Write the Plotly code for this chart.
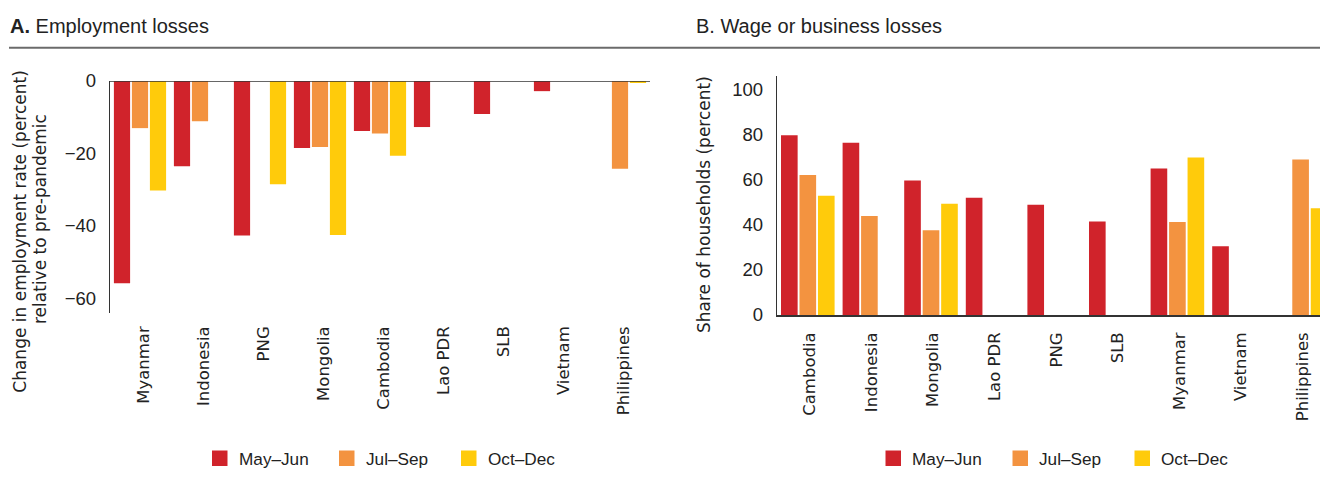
import plotly.graph_objects as go

W, H = 1320, 479

# ---- data ----
series = ["May–Jun", "Jul–Sep", "Oct–Dec"]
colors = ["#D0232B", "#F39340", "#FFCB0B"]

cats_a = ["Myanmar", "Indonesia", "PNG", "Mongolia", "Cambodia", "Lao PDR", "SLB", "Vietnam", "Philippines"]
a_may = [-55.8, -23.5, -42.6, -18.5, -13.8, -12.7, -9.1, -2.8, None]
a_jul = [-13.0, -11.1, None, -18.2, -14.5, None, None, None, -24.2]
a_oct = [-30.2, None, -28.5, -42.5, -20.6, None, None, None, -0.3]

cats_b = ["Cambodia", "Indonesia", "Mongolia", "Lao PDR", "PNG", "SLB", "Myanmar", "Vietnam", "Philippines"]
b_may = [79.7, 76.4, 59.6, 52.0, 48.9, 41.5, 65.0, 30.5, None]
b_jul = [62.1, 43.9, 37.6, None, None, None, 41.2, None, 69.0]
b_oct = [52.9, None, 49.3, None, None, None, 69.8, None, 47.4]

ticks_a = [0, -20, -40, -60]
ticklabels_a = ["0", "−20", "−40", "−60"]
ticks_b = [0, 20, 40, 60, 80, 100]
ticklabels_b = ["0", "20", "40", "60", "80", "100"]

title_a = "<b>A.</b> Employment losses"
title_b = "B. Wage or business losses"
ytitle_a1 = "Change in employment rate (percent)"
ytitle_a2 = "relative to pre-pandemic"
ytitle_b = "Share of households (percent)"

# ---- helpers (pixel -> paper) ----
def px(x):
    return x / W

def py(y):
    return 1 - y / H

fig = go.Figure()

for name, col, va, vb in zip(series, colors, [a_may, a_jul, a_oct], [b_may, b_jul, b_oct]):
    fig.add_trace(go.Bar(x=cats_a, y=va, name=name, marker=dict(color=col, line=dict(width=0)),
                         xaxis="x", yaxis="y", showlegend=False))
    fig.add_trace(go.Bar(x=cats_b, y=vb, name=name, marker=dict(color=col, line=dict(width=0)),
                         xaxis="x2", yaxis="y2", showlegend=False))

TICK_FONT = dict(family="Liberation Sans, Arial, sans-serif", size=18.5, color="#222222")
CAT_FONT = dict(family="DejaVu Sans, sans-serif", size=16.5, color="#222222")
AX_COLOR = "#333333"

fig.update_layout(
    width=W, height=H,
    margin=dict(l=0, r=0, t=0, b=0, pad=0),
    paper_bgcolor="white", plot_bgcolor="white",
    barmode="group", bargap=0.1, bargroupgap=0.1,
    showlegend=False,
    xaxis=dict(domain=[px(110), px(650)], anchor="y", type="category",
               range=[-0.5, 8.5], showline=False, showgrid=False, zeroline=False,
               ticks="", tickangle=-90, tickfont=CAT_FONT, ticklabelstandoff=9,
               ticklabelshift=4, automargin=False),
    yaxis=dict(domain=[py(313), py(81)], anchor="x", range=[-64, 0],
               tickvals=ticks_a, ticktext=ticklabels_a, tickfont=TICK_FONT,
               showline=True, linecolor=AX_COLOR, linewidth=1.3,
               showgrid=False, zeroline=False, ticks="", ticklabelstandoff=9,
               automargin=False),
    xaxis2=dict(domain=[px(777), 1.0], anchor="y2", type="category",
                range=[-0.5, -0.5 + (W - 777) / 61.6], showline=True, linecolor=AX_COLOR, linewidth=1.5,
                showgrid=False, zeroline=False,
                ticks="", tickangle=-90, tickfont=CAT_FONT, ticklabelstandoff=9,
                ticklabelshift=2, automargin=False),
    yaxis2=dict(domain=[py(315), py(76)], anchor="x2", range=[0, 106],
                tickvals=ticks_b, ticktext=ticklabels_b, tickfont=TICK_FONT,
                showline=True, linecolor=AX_COLOR, linewidth=1.3,
                showgrid=False, zeroline=False, ticks="", ticklabelstandoff=9,
                automargin=False),
)

shapes = []
# zero line panel A
shapes.append(dict(type="line", xref="x domain", yref="y", x0=0, x1=1, y0=0, y1=0,
                   line=dict(color=AX_COLOR, width=1.5), layer="above"))
# header rule
shapes.append(dict(type="line", xref="paper", yref="paper", x0=px(9), x1=1.0, y0=py(47.7), y1=py(47.7),
                   line=dict(color="#6b6b6b", width=2)))

annotations = []
TITLE_FONT = dict(family="Liberation Sans, Arial, sans-serif", size=20, color="#222222")
annotations.append(dict(text=title_a, x=px(8), y=py(26), xref="paper", yref="paper",
                        xanchor="left", yanchor="middle", showarrow=False, font=TITLE_FONT))
annotations.append(dict(text=title_b, x=px(694), y=py(26), xref="paper", yref="paper",
                        xanchor="left", yanchor="middle", showarrow=False, font=TITLE_FONT))

YT_FONT = dict(family="DejaVu Sans, sans-serif", size=17, color="#222222")
annotations.append(dict(text=ytitle_a1, x=px(19.7), y=py(231), xref="paper", yref="paper",
                        xanchor="center", yanchor="middle", textangle=-90, showarrow=False, font=YT_FONT))
annotations.append(dict(text=ytitle_a2, x=px(40), y=py(219), xref="paper", yref="paper",
                        xanchor="center", yanchor="middle", textangle=-90, showarrow=False, font=YT_FONT))
annotations.append(dict(text=ytitle_b, x=px(704), y=py(205), xref="paper", yref="paper",
                        xanchor="center", yanchor="middle", textangle=-90, showarrow=False, font=YT_FONT))

# manual legends (one per panel)
LEG_FONT = dict(family="Liberation Sans, Arial, sans-serif", size=17.2, color="#222222")
leg_sq_a = [212, 339, 461]
for offset in [0, 673.5]:
    for name, col, sx in zip(series, colors, leg_sq_a):
        x0 = sx + offset
        shapes.append(dict(type="rect", xref="paper", yref="paper",
                           x0=px(x0), x1=px(x0 + 15.5), y0=py(466), y1=py(450.5),
                           fillcolor=col, line=dict(width=0)))
        annotations.append(dict(text=name, x=px(x0 + 24.5), y=py(458.5), xref="paper", yref="paper",
                                xanchor="left", yanchor="middle", showarrow=False, font=LEG_FONT))

fig.update_layout(shapes=shapes, annotations=annotations)

fig.write_html("out.html", config={"displayModeBar": False},
               post_script="document.body.style.margin='0';document.body.style.overflow='hidden';")
